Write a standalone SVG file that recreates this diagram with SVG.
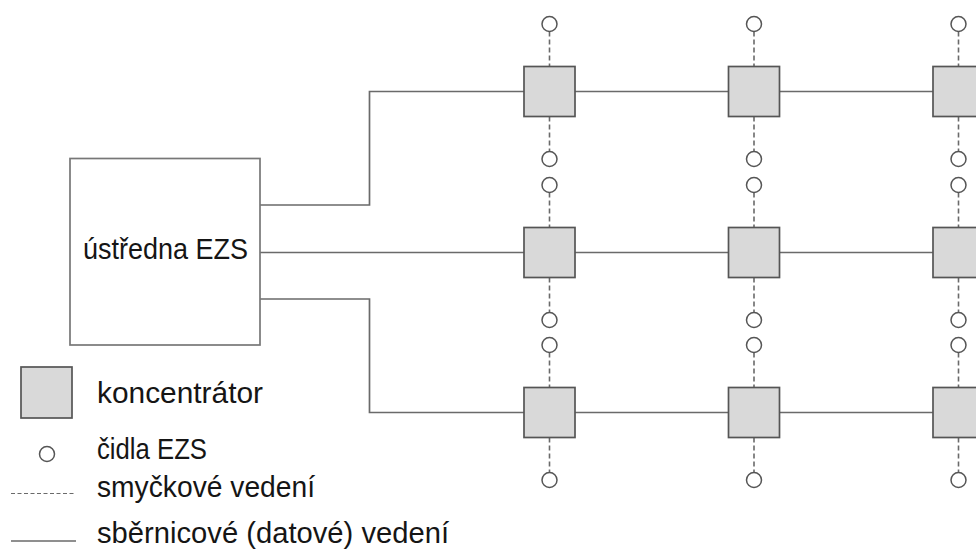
<svg xmlns="http://www.w3.org/2000/svg" width="976" height="549" viewBox="0 0 976 549">
<style>
.bus{fill:none;stroke:#6a6a6a;stroke-width:1.7}
.loop{fill:none;stroke:#6a6a6a;stroke-width:1.6;stroke-dasharray:5,3}
.conc{fill:#d9d9d9;stroke:#555;stroke-width:1.7}
.sens{fill:#fff;stroke:#555;stroke-width:1.5}
.main{fill:#fff;stroke:#777;stroke-width:1.7}
text{font-family:"Liberation Sans",Arial,sans-serif;font-size:30px;fill:#151515}
</style>
<defs>
<g id="unit">
<line class="loop" x1="0" y1="-60" x2="0" y2="-25"/>
<line class="loop" x1="0" y1="25" x2="0" y2="60"/>
<rect class="conc" x="-25.5" y="-25" width="51" height="50"/>
<circle class="sens" cx="0" cy="-67.5" r="7.5"/>
<circle class="sens" cx="0" cy="67.5" r="7.5"/>
</g>
</defs>
<g id="connectors">
<path class="bus" d="M260,205 H369.5 V91.5 H524"/>
<path class="bus" d="M260,252.5 H524"/>
<path class="bus" d="M260,299 H369.5 V412.5 H524"/>
<path class="bus" d="M575,91.5 H729 M780,91.5 H933"/>
<path class="bus" d="M575,252.5 H729 M780,252.5 H933"/>
<path class="bus" d="M575,412.5 H729 M780,412.5 H933"/>
</g>
<g id="ustredna">
<rect class="main" x="70" y="158.5" width="190" height="186.5"/>
<text x="83" y="259" textLength="165" lengthAdjust="spacingAndGlyphs">ústředna EZS</text>
</g>
<g id="k11"><use href="#unit" x="549.5" y="91.5"/></g>
<g id="k12"><use href="#unit" x="754" y="91.5"/></g>
<g id="k13"><use href="#unit" x="958.5" y="91.5"/></g>
<g id="k21"><use href="#unit" x="549.5" y="252.5"/></g>
<g id="k22"><use href="#unit" x="754" y="252.5"/></g>
<g id="k23"><use href="#unit" x="958.5" y="252.5"/></g>
<g id="k31"><use href="#unit" x="549.5" y="412.5"/></g>
<g id="k32"><use href="#unit" x="754" y="412.5"/></g>
<g id="k33"><use href="#unit" x="958.5" y="412.5"/></g>
<g id="legend">
<rect class="conc" x="21" y="367" width="51" height="51"/>
<text x="97" y="403" textLength="166" lengthAdjust="spacingAndGlyphs">koncentrátor</text>
<circle class="sens" cx="47" cy="454" r="7.5"/>
<text x="97" y="459" textLength="110" lengthAdjust="spacingAndGlyphs">čidla EZS</text>
<line x1="11" y1="493.5" x2="76" y2="493.5" stroke="#6a6a6a" stroke-width="1.2" stroke-dasharray="4,2.5"/>
<text x="97" y="497" textLength="218" lengthAdjust="spacingAndGlyphs">smyčkové vedení</text>
<line x1="11" y1="541" x2="76" y2="541" stroke="#6a6a6a" stroke-width="1.5"/>
<text x="97" y="543" textLength="352" lengthAdjust="spacingAndGlyphs">sběrnicové (datové) vedení</text>
</g>
</svg>
